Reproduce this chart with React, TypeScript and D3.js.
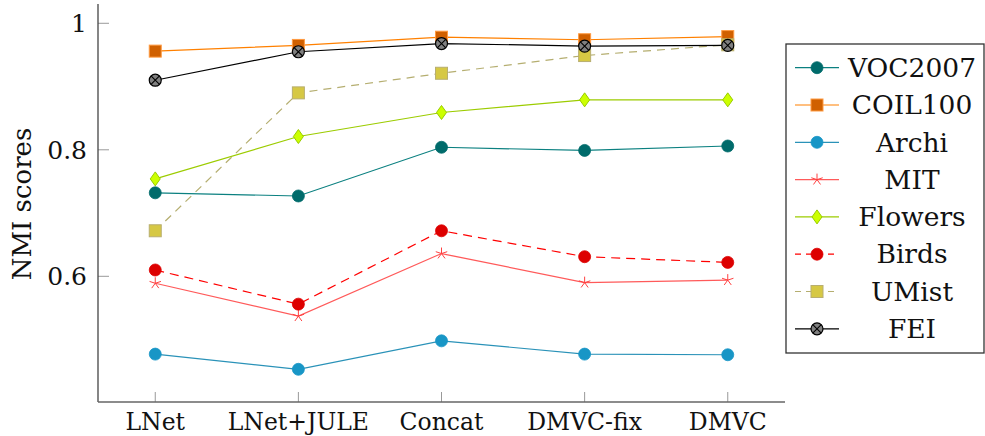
import React from "react";
import * as d3 from "d3";

const categories = ["LNet", "LNet+JULE", "Concat", "DMVC-fix", "DMVC"];
const yTicks = [0.6, 0.8, 1];
const yTickLabels = ["0.6", "0.8", "1"];

const seriesNames = ["VOC2007", "COIL100", "Archi", "MIT", "Flowers", "Birds", "UMist", "FEI"];
const voc2007 = [0.732, 0.727, 0.804, 0.799, 0.806];
const coil100 = [0.956, 0.965, 0.978, 0.974, 0.979];
const archi = [0.477, 0.453, 0.498, 0.477, 0.476];
const mit = [0.589, 0.537, 0.636, 0.590, 0.594];
const flowers = [0.754, 0.821, 0.859, 0.879, 0.879];
const birds = [0.610, 0.556, 0.672, 0.631, 0.622];
const umist = [0.672, 0.890, 0.921, 0.949, 0.966];
const fei = [0.910, 0.955, 0.968, 0.964, 0.965];
const seriesValues = [voc2007, coil100, archi, mit, flowers, birds, umist, fei];

type Style = { line: string; dash?: string; marker: string; fill: string; stroke: string };
const styles: Style[] = [
  { line: "#0b8080", marker: "circle", fill: "#006b6b", stroke: "#006b6b" },
  { line: "#ff8000", marker: "square", fill: "#d06000", stroke: "#ff9a40" },
  { line: "#2a92b8", marker: "circle", fill: "#1896c6", stroke: "#1896c6" },
  { line: "#ff5a5a", marker: "star", fill: "none", stroke: "#ff4040" },
  { line: "#9ccc00", marker: "diamond", fill: "#ccff00", stroke: "#99cc00" },
  { line: "#ff0000", dash: "9,6", marker: "circle", fill: "#dd0000", stroke: "#dd0000" },
  { line: "#b5ae70", dash: "8,6", marker: "square", fill: "#d6c844", stroke: "#b8ae70" },
  { line: "#000000", marker: "otimes", fill: "#808080", stroke: "#000000" },
];

const W = 985;
const H = 436;
const X0 = 98, X1 = 785, Y0 = 4, Y1 = 402;
const FONT = "'DejaVu Serif', 'Liberation Serif', serif";

function Marker({ kind, x, y, s }: { kind: string; x: number; y: number; s: Style }) {
  if (kind === "circle") return <circle cx={x} cy={y} r={6} fill={s.fill} stroke={s.stroke} strokeWidth={0.8} />;
  if (kind === "square") return <rect x={x - 6} y={y - 6} width={12} height={12} fill={s.fill} stroke={s.stroke} strokeWidth={1} />;
  if (kind === "diamond")
    return <path d={`M${x},${y - 7}L${x + 5},${y}L${x},${y + 7}L${x - 5},${y}Z`} fill={s.fill} stroke={s.stroke} strokeWidth={1} />;
  if (kind === "star") {
    const r = 6;
    let d = "";
    for (let k = 0; k < 5; k++) {
      const a = -Math.PI / 2 + (k * 2 * Math.PI) / 5;
      d += `M${x},${y}L${x + r * Math.cos(a)},${y + r * Math.sin(a)}`;
    }
    return <path d={d} fill="none" stroke={s.stroke} strokeWidth={1} />;
  }
  if (kind === "otimes") {
    const r = 6;
    const c = r * Math.SQRT1_2;
    return (
      <g>
        <circle cx={x} cy={y} r={r} fill={s.fill} stroke={s.stroke} strokeWidth={1.2} />
        <path d={`M${x - c},${y - c}L${x + c},${y + c}M${x - c},${y + c}L${x + c},${y - c}`} stroke="#000" strokeWidth={1.1} />
      </g>
    );
  }
  return null;
}

export default function App() {
  const x = d3.scaleLinear().domain([-0.4, categories.length - 1 + 0.4]).range([X0, X1]);
  const y = d3.scaleLinear().domain([0.4013, 1.0305]).range([Y1, Y0]);
  const line = d3
    .line<number>()
    .x((_, i) => x(i))
    .y((v) => y(v));
  const legX = 786, legY = 44, legW = 198, legH = 309;
  const rowY0 = 67.7, rowStep = 37.3;
  const ts = { fontFamily: FONT };

  return (
    <svg width={W} height={H} style={{ position: "absolute", left: 0, top: 0, background: "#fff" }}>
      <rect width={W} height={H} fill="#fff" />
      {/* ticks */}
      {yTicks.map((t, i) => (
        <g key={"yt" + i}>
          <line x1={X0} x2={X0 + 11} y1={y(t)} y2={y(t)} stroke="#999" strokeWidth={1} />
          <text x={87} y={y(t)} dy="0.35em" textAnchor="end" fontSize={25} fill="#111" style={ts}>
            {yTickLabels[i]}
          </text>
        </g>
      ))}
      {categories.map((c, i) => (
        <g key={"xt" + i}>
          <line x1={x(i)} x2={x(i)} y1={Y1} y2={Y1 - 10} stroke="#999" strokeWidth={1} />
          <text x={x(i)} y={430} textAnchor="middle" fontSize={23.5} fill="#111" style={ts}>
            {c}
          </text>
        </g>
      ))}
      {/* axes */}
      <line x1={X0} x2={X0} y1={Y0} y2={Y1} stroke="#444" strokeWidth={1.3} />
      <line x1={X0} x2={X1} y1={Y1} y2={Y1} stroke="#666" strokeWidth={1.3} />
      <text transform={`translate(31,204) rotate(-90)`} textAnchor="middle" fontSize={26} fill="#111" style={ts}>
        NMI scores
      </text>
      {/* series */}
      {seriesValues.map((vals, si) => {
        const s = styles[si];
        return (
          <g key={"s" + si}>
            <path d={line(vals) || ""} fill="none" stroke={s.line} strokeWidth={1.2} strokeDasharray={s.dash} />
            {vals.map((v, i) => (
              <Marker key={i} kind={s.marker} x={x(i)} y={y(v)} s={s} />
            ))}
          </g>
        );
      })}
      {/* legend */}
      <rect x={legX} y={legY} width={legW} height={legH} fill="#fff" stroke="#333" strokeWidth={1.3} />
      {seriesNames.map((n, i) => {
        const s = styles[i];
        const ry = rowY0 + i * rowStep;
        return (
          <g key={"l" + i}>
            <line x1={795} x2={839} y1={ry} y2={ry} stroke={s.line} strokeWidth={1.2} strokeDasharray={s.dash ? "6,5" : undefined} />
            <Marker kind={s.marker} x={817} y={ry} s={s} />
            <text x={912} y={ry} dy="0.35em" textAnchor="middle" fontSize={26.5} fill="#111" style={ts}>
              {n}
            </text>
          </g>
        );
      })}
    </svg>
  );
}
